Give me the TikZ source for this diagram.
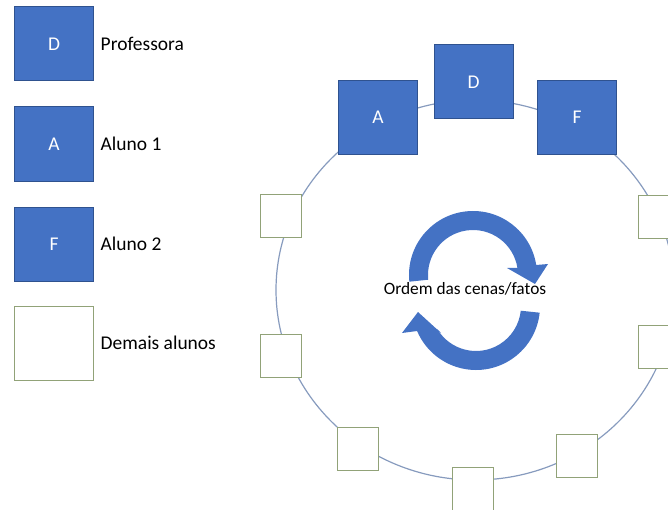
\documentclass[tikz,border=0pt]{standalone}
\usepackage{fontspec}
\setmainfont{Carlito}
\usetikzlibrary{calc, positioning}
\definecolor{boxblue}{RGB}{68,114,196}
\definecolor{boxedge}{RGB}{47,82,143}
\definecolor{seatedge}{RGB}{145,162,120}
\definecolor{ringline}{RGB}{135,155,190}
\tikzset{
  bigfont/.style={font=\fontsize{14.6}{17}\selectfont},
  actor/.style={draw=boxedge, fill=boxblue, text=white, rectangle, minimum width=59.25pt, minimum height=55.5pt, line width=0.75pt, bigfont},
  other/.style={draw=seatedge, fill=white, rectangle, minimum width=59.25pt, minimum height=55.5pt, line width=0.75pt},
  seat/.style={draw=seatedge, fill=white, rectangle, minimum width=30.75pt, minimum height=32.25pt, line width=0.75pt},
  turn/.style={fill=boxblue}
}
\begin{document}
\begin{tikzpicture}[x=0.75pt, y=0.75pt]
                    \useasboundingbox (0,0) rectangle (668,-510);

                    \node[actor] (legD) at (54,-44) {D};
                    \node[actor] (legA) [below=18.75pt of legD] {A};
                    \node[actor] (legF) [below=18.75pt of legA] {F};
                    \node[other] (legO) [below=18pt of legF] {};

                    \node[bigfont] (txtD) [right=1.5pt of legD] {Professora};
                    \node[bigfont] (txtA) [right=1.5pt of legA] {Aluno 1};
                    \node[bigfont] (txtF) [right=1.5pt of legF] {Aluno 2};
                    \node[bigfont] (txtO) [right=1.5pt of legO] {Demais alunos};

                    \draw[ringline, line width=0.9pt] (475,-290) ellipse [x radius=199, y radius=190];

                    \node[actor] (ringD) at (473.5,-82) {D};
                    \node[actor] (ringA) at (378,-117.5) {A};
                    \node[actor] (ringF) at (577,-117.5) {F};

                    \node[seat] (s1) at (281,-216) {};
                    \node[seat] (s2) at (281,-355.5) {};
                    \node[seat] (s3) at (358,-449) {};
                    \node[seat] (s4) at (473,-488.5) {};
                    \node[seat] (s5) at (577,-455.5) {};
                    \node[seat] (s6) at (658.5,-346.5) {};
                    \node[seat] (s7) at (658.5,-216.5) {};

                    \coordinate (up) at (473,-275);
                    \coordinate (down) at (476,-306);
                    \fill[turn] ($(up)+(186:64)$) arc[start angle=186, end angle=9, radius=64]
                        -- (548,-264) -- (535,-284) -- (507,-268)
                        -- ($(up)+(9:45)$) arc[start angle=9, end angle=186, radius=45] -- cycle;
                    \fill[turn] ($(down)+(-6:64)$) arc[start angle=-6, end angle=-157, radius=64]
                        -- (402,-333) -- (418,-312) -- (441,-333)
                        -- ($(down)+(-149:45)$) arc[start angle=-149, end angle=-6, radius=45] -- cycle;

                    \node[font=\fontsize{13}{16}\selectfont] (order) at (465,-289) {Ordem das cenas/fatos};
                \end{tikzpicture}
\end{document}
